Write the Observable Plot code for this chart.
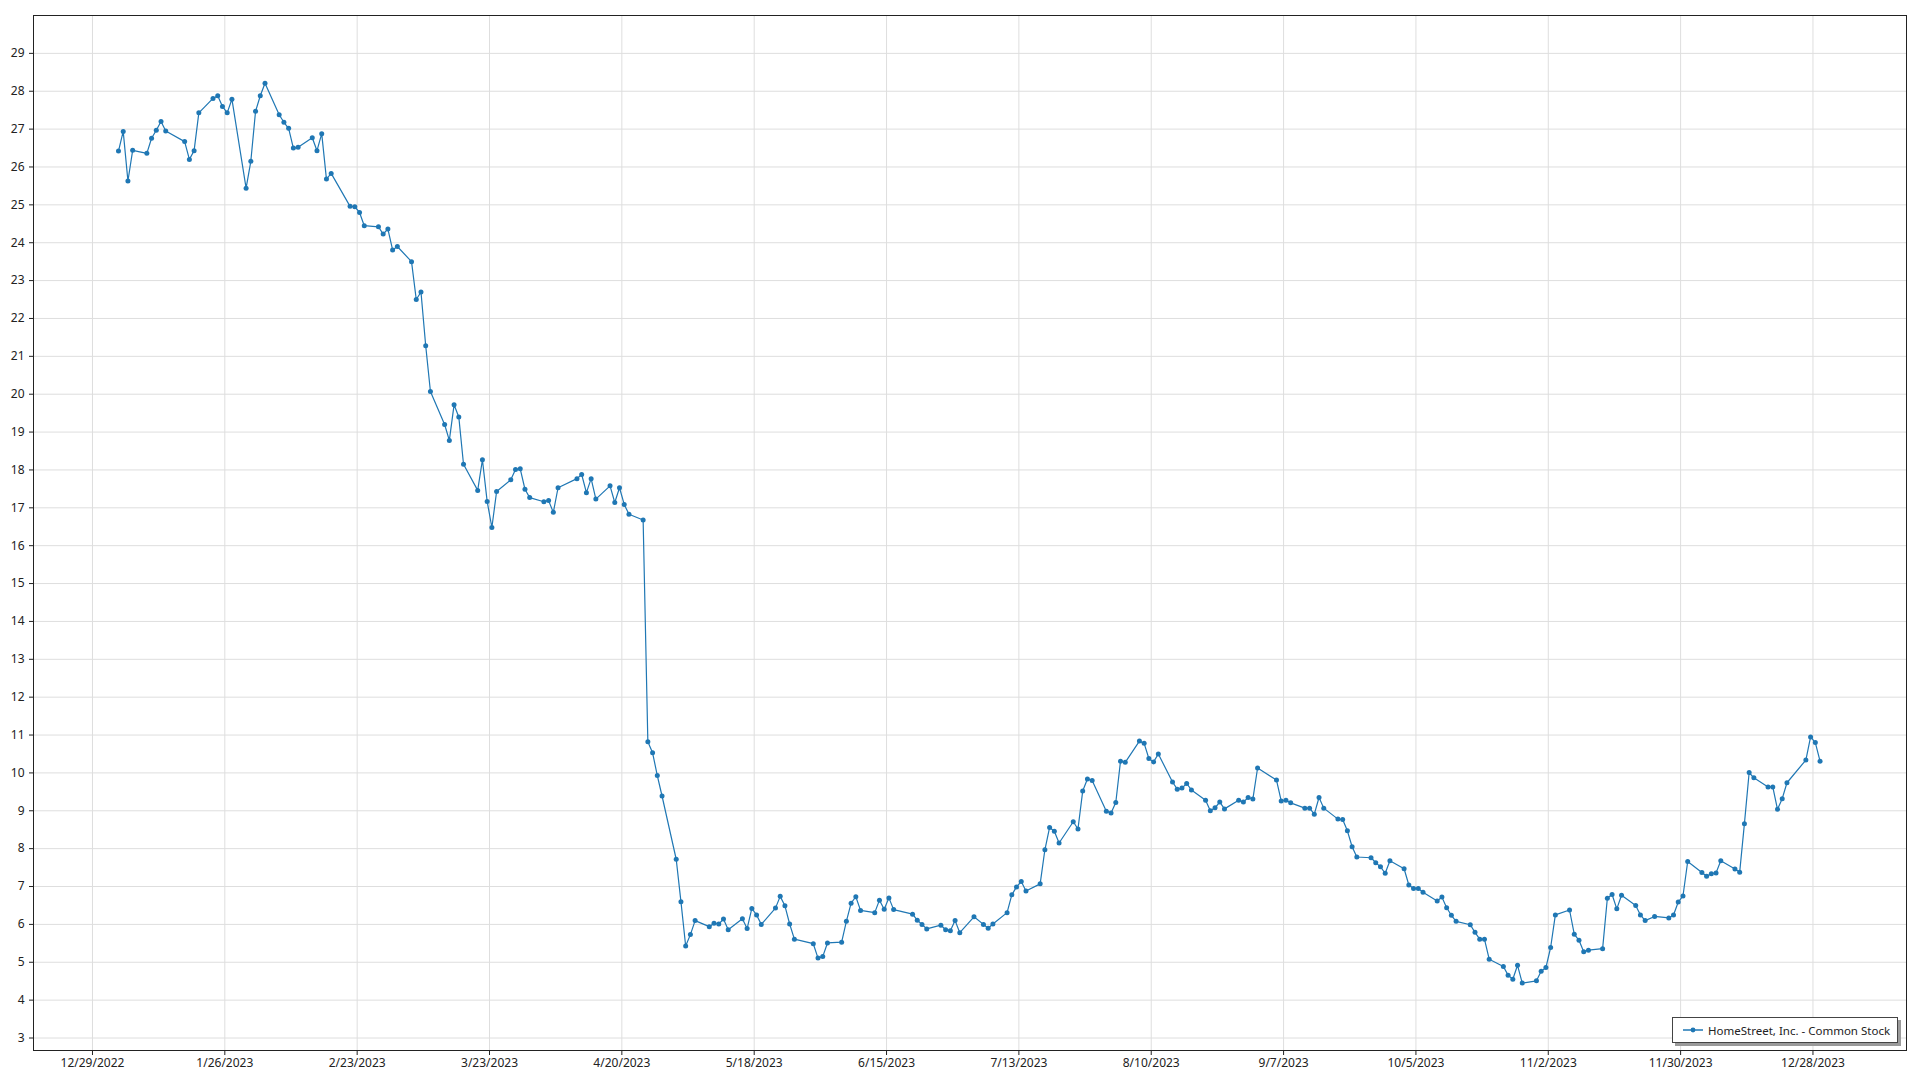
<!DOCTYPE html>
<html>
<head>
<meta charset="utf-8">
<script src="https://cdn.jsdelivr.net/npm/d3@7"></script>
<script src="https://cdn.jsdelivr.net/npm/@observablehq/plot@0.6"></script>
<style>
  html, body { margin: 0; padding: 0; background: #fff; }
  #wrap { position: relative; width: 1920px; height: 1080px; font-family: "Noto Sans", "Open Sans", sans-serif; }
  #legend { position: absolute; left: 1672px; top: 1017px; width: 226px; height: 26px; border: 1px solid #444; background: #fff;
            box-shadow: 3px 3px 0 #9a9a9a; display: flex; align-items: center; font-size: 11.5px; color: #222; box-sizing: border-box;
            white-space: nowrap; overflow: hidden; }
  #legend svg { margin-left: 10px; margin-right: 5px; flex: none; }
</style>
</head>
<body>
<div id="wrap">
  <div id="chart"></div>
  <div id="legend"><svg width="20" height="10"><line x1="0" y1="5" x2="20" y2="5" stroke="#1f77b4" stroke-width="1.5"/><circle cx="10" cy="5" r="2.4" fill="#1f77b4"/></svg><span id="legendText"></span></div>
</div>
<script>
const seriesName = "HomeStreet, Inc. - Common Stock";

const xTicks = ["2022-12-29","2023-01-26","2023-02-23","2023-03-23","2023-04-20","2023-05-18","2023-06-15",
  "2023-07-13","2023-08-10","2023-09-07","2023-10-05","2023-11-02","2023-11-30","2023-12-28"];
const yTicks = [3,4,5,6,7,8,9,10,11,12,13,14,15,16,17,18,19,20,21,22,23,24,25,26,27,28,29];

const dates = [
  "2023-01-03","2023-01-04","2023-01-05","2023-01-06","2023-01-09","2023-01-10","2023-01-11","2023-01-12","2023-01-13","2023-01-17",
  "2023-01-18","2023-01-19","2023-01-20","2023-01-23","2023-01-24","2023-01-25","2023-01-26","2023-01-27","2023-01-30","2023-01-31",
  "2023-02-01","2023-02-02","2023-02-03","2023-02-06","2023-02-07","2023-02-08","2023-02-09","2023-02-10","2023-02-13","2023-02-14",
  "2023-02-15","2023-02-16","2023-02-17","2023-02-21","2023-02-22","2023-02-23","2023-02-24","2023-02-27","2023-02-28",
  "2023-03-01","2023-03-02","2023-03-03","2023-03-06","2023-03-07","2023-03-08","2023-03-09","2023-03-10","2023-03-13","2023-03-14",
  "2023-03-15","2023-03-16","2023-03-17","2023-03-20","2023-03-21","2023-03-22","2023-03-23","2023-03-24","2023-03-27","2023-03-28",
  "2023-03-29","2023-03-30","2023-03-31",
  "2023-04-03","2023-04-04","2023-04-05","2023-04-06","2023-04-10","2023-04-11","2023-04-12","2023-04-13","2023-04-14","2023-04-17",
  "2023-04-18","2023-04-19","2023-04-20","2023-04-21","2023-04-24","2023-04-25","2023-04-26","2023-04-27","2023-04-28",
  "2023-05-01","2023-05-02","2023-05-03","2023-05-04","2023-05-05","2023-05-08","2023-05-09","2023-05-10","2023-05-11","2023-05-12",
  "2023-05-15","2023-05-16","2023-05-17","2023-05-18","2023-05-19","2023-05-22","2023-05-23","2023-05-24","2023-05-25","2023-05-26",
  "2023-05-30","2023-05-31",
  "2023-06-01","2023-06-02","2023-06-05","2023-06-06","2023-06-07","2023-06-08","2023-06-09","2023-06-12","2023-06-13","2023-06-14",
  "2023-06-15","2023-06-16","2023-06-20","2023-06-21","2023-06-22","2023-06-23","2023-06-26","2023-06-27","2023-06-28","2023-06-29",
  "2023-06-30",
  "2023-07-03","2023-07-05","2023-07-06","2023-07-07","2023-07-10","2023-07-11","2023-07-12","2023-07-13","2023-07-14","2023-07-17",
  "2023-07-18","2023-07-19","2023-07-20","2023-07-21","2023-07-24","2023-07-25","2023-07-26","2023-07-27","2023-07-28","2023-07-31",
  "2023-08-01","2023-08-02","2023-08-03","2023-08-04","2023-08-07","2023-08-08","2023-08-09","2023-08-10","2023-08-11","2023-08-14",
  "2023-08-15","2023-08-16","2023-08-17","2023-08-18","2023-08-21","2023-08-22","2023-08-23","2023-08-24","2023-08-25","2023-08-28",
  "2023-08-29","2023-08-30","2023-08-31",
  "2023-09-01","2023-09-05","2023-09-06","2023-09-07","2023-09-08","2023-09-11","2023-09-12","2023-09-13","2023-09-14","2023-09-15",
  "2023-09-18","2023-09-19","2023-09-20","2023-09-21","2023-09-22","2023-09-25","2023-09-26","2023-09-27","2023-09-28","2023-09-29",
  "2023-10-02","2023-10-03","2023-10-04","2023-10-05","2023-10-06","2023-10-09","2023-10-10","2023-10-11","2023-10-12","2023-10-13",
  "2023-10-16","2023-10-17","2023-10-18","2023-10-19","2023-10-20","2023-10-23","2023-10-24","2023-10-25","2023-10-26","2023-10-27",
  "2023-10-30","2023-10-31",
  "2023-11-01","2023-11-02","2023-11-03","2023-11-06","2023-11-07","2023-11-08","2023-11-09","2023-11-10","2023-11-13","2023-11-14",
  "2023-11-15","2023-11-16","2023-11-17","2023-11-20","2023-11-21","2023-11-22","2023-11-24","2023-11-27","2023-11-28","2023-11-29",
  "2023-11-30",
  "2023-12-01","2023-12-04","2023-12-05","2023-12-06","2023-12-07","2023-12-08","2023-12-11","2023-12-12","2023-12-13","2023-12-14",
  "2023-12-15","2023-12-18","2023-12-19","2023-12-20","2023-12-21","2023-12-22","2023-12-26","2023-12-27","2023-12-28","2023-12-29"
];

const prices = [
  26.42,26.94,25.63,26.44,26.36,26.76,26.97,27.20,26.95,26.67,
  26.20,26.43,27.43,27.81,27.88,27.60,27.43,27.79,25.44,26.15,
  27.47,27.88,28.21,27.38,27.18,27.02,26.50,26.52,26.77,26.43,
  26.88,25.68,25.83,24.96,24.95,24.80,24.45,24.42,24.23,
  24.36,23.81,23.90,23.50,22.50,22.70,21.28,20.07,19.20,18.78,
  19.72,19.40,18.15,17.46,18.27,17.17,16.48,17.43,17.74,18.01,
  18.03,17.49,17.27,
  17.16,17.19,16.88,17.53,17.77,17.88,17.40,17.77,17.23,17.58,
  17.14,17.53,17.09,16.83,16.68,10.82,10.53,9.93,9.39,
  7.72,6.60,5.43,5.73,6.10,5.94,6.03,6.01,6.14,5.86,
  6.15,5.89,6.42,6.25,6.00,6.43,6.74,6.49,6.01,5.61,
  5.49,5.11,
  5.15,5.51,5.53,6.08,6.56,6.73,6.37,6.31,6.64,6.40,
  6.70,6.39,6.27,6.11,6.00,5.88,5.98,5.86,5.83,6.10,
  5.78,
  6.20,6.00,5.90,6.01,6.31,6.78,6.99,7.13,6.88,7.07,
  7.97,8.56,8.46,8.15,8.71,8.52,9.52,9.84,9.80,8.99,
  8.94,9.22,10.31,10.28,10.84,10.78,10.38,10.29,10.50,9.76,
  9.57,9.60,9.72,9.55,9.28,9.00,9.08,9.23,9.05,9.28,
  9.23,9.35,9.31,
  10.13,9.81,9.26,9.28,9.21,9.07,9.07,8.91,9.35,9.07,
  8.78,8.77,8.47,8.05,7.78,7.76,7.63,7.52,7.35,7.68,
  7.47,7.04,6.95,6.95,6.85,6.62,6.72,6.44,6.24,6.08,
  5.99,5.79,5.61,5.61,5.08,4.89,4.66,4.55,4.92,4.45,
  4.51,4.76,
  4.86,5.39,6.25,6.38,5.74,5.58,5.28,5.32,5.36,6.69,
  6.79,6.41,6.77,6.50,6.25,6.10,6.21,6.17,6.25,6.59,
  6.75,
  7.66,7.37,7.27,7.34,7.36,7.68,7.46,7.38,8.66,10.01,
  9.87,9.63,9.63,9.04,9.32,9.74,10.34,10.95,10.80,10.31
];

const rows = dates.map((d, i) => ({date: new Date(d + "T12:00:00Z"), price: prices[i]}));
const tickDates = xTicks.map(d => new Date(d + "T00:00:00Z"));
const color = "#1f77b4";

const chart = Plot.plot({
  width: 1920,
  height: 1080,
  marginLeft: 33,
  marginRight: 14,
  marginTop: 15,
  marginBottom: 30,
  style: {fontFamily: "'Noto Sans', 'Open Sans', sans-serif", fontSize: "12px", color: "#222", background: "#fff"},
  x: {type: "utc", domain: [new Date(Date.UTC(2022, 11, 16, 12, 30)), new Date(Date.UTC(2024, 0, 16, 19))]},
  y: {domain: [2.67, 30]},
  marks: [
    Plot.gridX(tickDates, {stroke: "#dedede", strokeOpacity: 1}),
    Plot.gridY(yTicks, {stroke: "#dedede", strokeOpacity: 1}),
    Plot.axisX(tickDates, {tickFormat: d3.utcFormat("%-m/%-d/%Y"), tickSize: 5, tickPadding: 3, label: null}),
    Plot.axisY(yTicks, {tickSize: 4, tickPadding: 5, label: null}),
    Plot.line(rows, {x: "date", y: "price", stroke: color, strokeWidth: 1.2}),
    Plot.dot(rows, {x: "date", y: "price", r: 2.5, fill: color, stroke: "none"}),
    Plot.frame({stroke: "#222"})
  ]
});
document.getElementById("chart").appendChild(chart);
document.getElementById("legendText").textContent = seriesName;
</script>
</body>
</html>
